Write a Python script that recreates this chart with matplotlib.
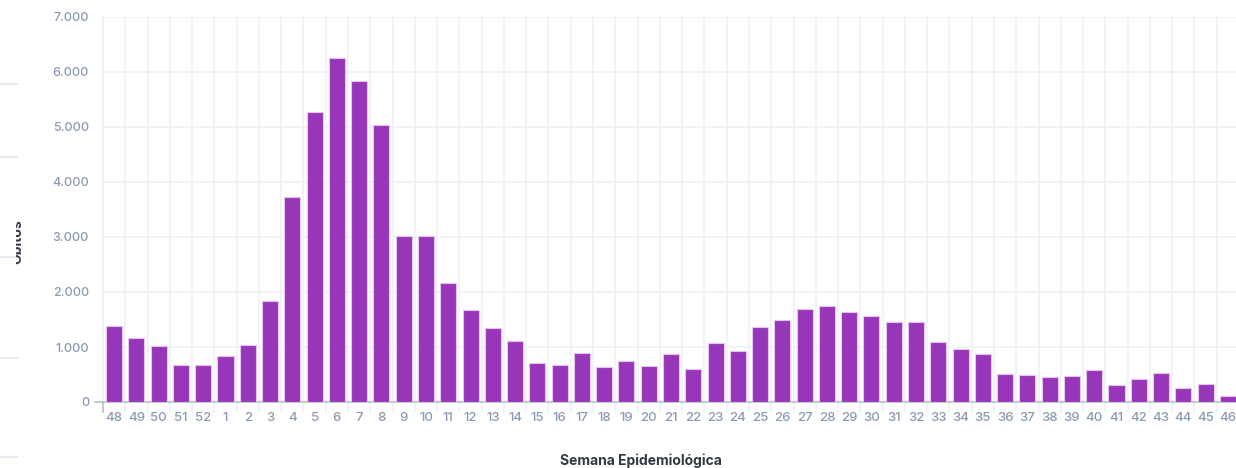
import matplotlib.pyplot as plt
from matplotlib.lines import Line2D
from matplotlib.transforms import Bbox

# Semana epidemiologica (48 a 52 do ano anterior, depois 1 a 46)
semanas = ["48", "49", "50", "51", "52"] + [str(i) for i in range(1, 47)]
obitos = [1380, 1170, 1010, 670, 680, 830, 1030, 1830, 3730, 5280,
          6260, 5840, 5040, 3020, 3020, 2160, 1665, 1348, 1108, 715,
          670, 888, 630, 743, 656, 866, 605, 1072, 932, 1362,
          1494, 1698, 1745, 1636, 1566, 1454, 1460, 1100, 965, 880,
          505, 486, 450, 473, 588, 304, 424, 528, 255, 322, 107]
yticks = [0, 1000, 2000, 3000, 4000, 5000, 6000, 7000]
ytick_labels = ["0", "1.000", "2.000", "3.000", "4.000", "5.000", "6.000", "7.000"]

W, H = 1236, 468
fig = plt.figure(figsize=(W / 100, H / 100), dpi=100)
plt.rcParams['font.family'] = ['Inter', 'DejaVu Sans']

ax = fig.add_axes([103 / W, 1 - 402 / H, (1239 - 103) / W, (402 - 17) / H])

x = list(range(len(semanas)))
ax.bar(x, obitos, width=0.72, color="#9836b9", edgecolor="#e2c4ee", linewidth=0.8, zorder=3)

ax.set_xlim(-0.5, len(semanas) - 0.5)
ax.set_ylim(0, 7000)
ax.set_xticks(x)
ax.set_xticklabels(semanas)
ax.set_yticks(yticks)
ax.set_yticklabels(ytick_labels)

# grade: horizontais nos valores, verticais entre as categorias
for v in yticks[1:]:
    ax.axhline(v, color="#eef2f8", linewidth=1.2, zorder=0)
for b in range(len(semanas) + 1):
    ax.plot([b - 0.5, b - 0.5], [-180, 7000], color="#eef2f8", linewidth=1.2,
            zorder=0, clip_on=False)

for s in ["top", "right", "left"]:
    ax.spines[s].set_visible(False)
ax.spines["bottom"].set_color("#b8c0cc")
ax.spines["bottom"].set_linewidth(1.2)
ax.plot([-0.5, -0.5], [0, -190], color="#b8c0cc", linewidth=1.2, clip_on=False, zorder=4)
ax.plot([-0.85, -0.5], [0, 0], color="#b8c0cc", linewidth=1.2, clip_on=False, zorder=4)

ax.tick_params(axis="x", length=0, pad=7, labelsize=9.5, labelcolor="#8a9ab3")
ax.tick_params(axis="y", length=0, pad=10, labelsize=9, labelcolor="#8a9ab3")
for t in ax.get_xticklabels() + ax.get_yticklabels():
    t.set_fontweight("medium")

fig.text(641 / W, 1 - 461 / H, "Semana Epidemiológica", ha="center", va="center",
         fontsize=10, fontweight="bold", color="#333a44")

# rotulo do eixo y, cortado pelo painel ao lado
lbl = fig.text(17 / W, 1 - 242 / H, "Óbitos", rotation=90, ha="center", va="center",
               fontsize=10, fontweight="bold", color="#333a44")
lbl.set_clip_box(Bbox([[16, 0], [30, H]]))
lbl.set_clip_on(True)

# linhas do painel vizinho a esquerda
for yy in [84, 157, 257, 358, 457]:
    fig.add_artist(Line2D([0, 17 / W], [1 - yy / H, 1 - yy / H], color="#e3e8ef", linewidth=1.2))

fig.savefig("out.png", dpi=100)
